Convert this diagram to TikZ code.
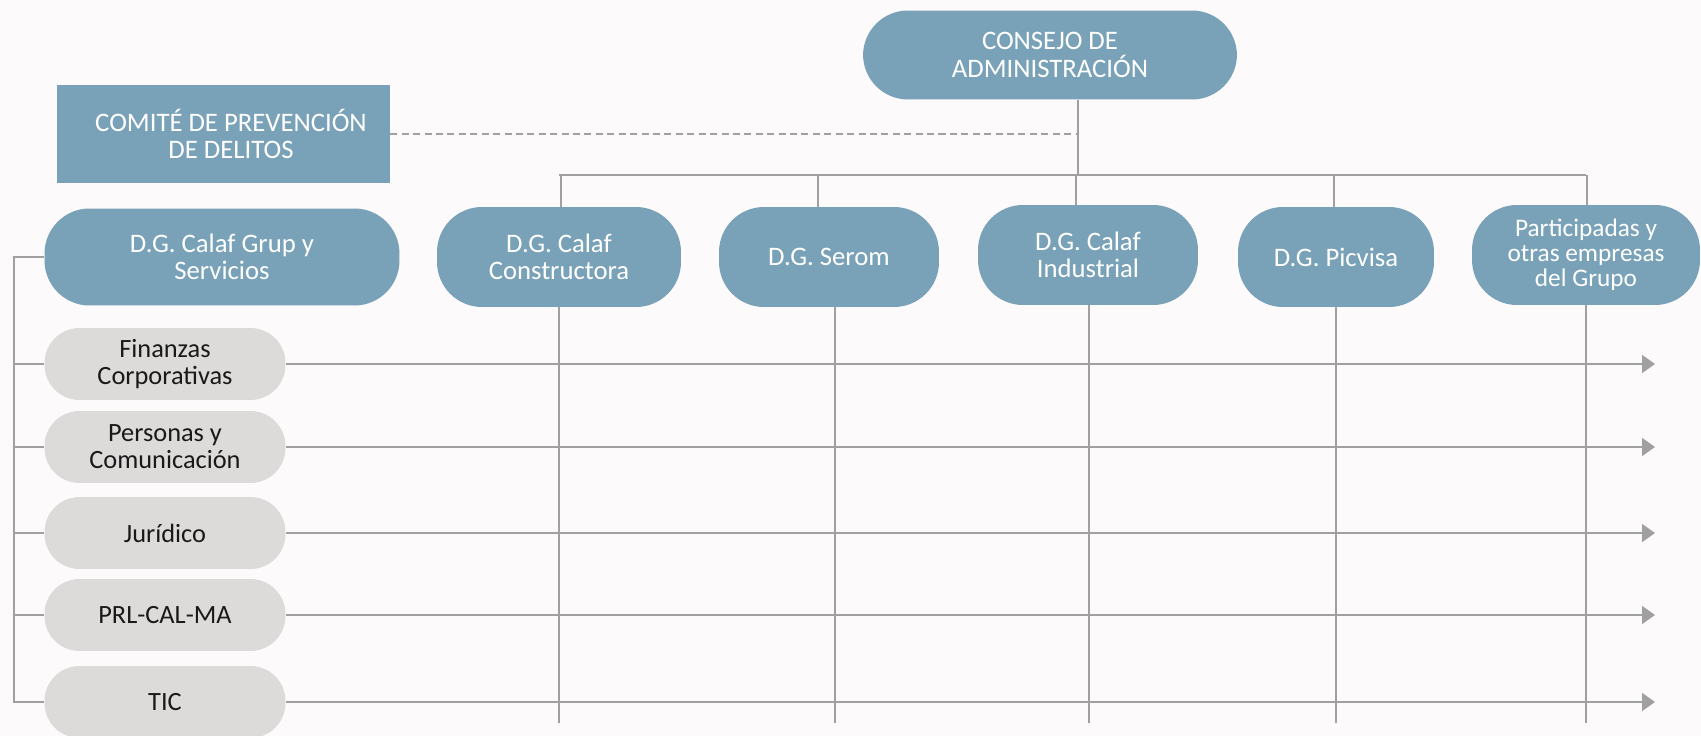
\documentclass[tikz,border=0pt]{standalone}
\usepackage{xcolor}
\usepackage{fontspec}
\setmainfont{Carlito}
\usepackage{tikz}
\usetikzlibrary{arrows.meta, positioning}

\definecolor{boxblue}{RGB}{121,162,184}
\definecolor{boxgray}{RGB}{221,219,218}
\definecolor{linegray}{RGB}{160,160,160}
\definecolor{paper}{RGB}{252,250,251}

\begin{document}
\begin{tikzpicture}[x=0.02cm, y=-0.02cm,
    bluebox/.style={fill=boxblue, text=white, rounded corners=0.9cm, align=center, inner sep=0pt,
        minimum height=2cm, font=\fontsize{15.2}{15.5}\selectfont},
    graybox/.style={fill=boxgray, text=black!90, rounded corners=0.7cm, align=center, inner sep=0pt,
        minimum width=4.82cm, minimum height=1.44cm, font=\fontsize{15}{15.5}\selectfont},
    link/.style={draw=linegray, line width=1pt},
    lane/.style={link, -{Triangle[length=0.26cm, width=0.36cm]}}]
                    % Page
                    \fill[paper] (0,0) rectangle (1701,736);
                    \useasboundingbox (0,0) rectangle (1701,736);
                    % Helper coordinates
                    \coordinate (bus) at (0,175);
                    \coordinate (bottom) at (0,723);
                    \coordinate (rail) at (14,0);
                    \coordinate (stem) at (1078,0);
                    \coordinate (endx) at (1655,0);
                    % Top
                    \node[bluebox, minimum width=7.48cm, minimum height=1.78cm] (consejo) at (1050,55) {CONSEJO DE\\ADMINISTRACIÓN};
                    \node[bluebox, sharp corners, minimum width=6.66cm, minimum height=1.96cm] (comite) at (223.5,134) {\hspace*{0.3cm}COMITÉ DE PREVENCIÓN\\\hspace*{0.3cm}DE DELITOS};
                    % Directions
                    \node[bluebox, minimum width=7.1cm, minimum height=1.94cm] (grup) at (222,257) {D.G. Calaf Grup y\\Servicios};
                    \node[bluebox, minimum width=4.88cm] (constructora) at (559,257) {D.G. Calaf\\Constructora};
                    \node[bluebox, minimum width=4.4cm] (serom) at (829,257) {D.G. Serom};
                    \node[bluebox, minimum width=4.4cm] (industrial) at (1088,255) {D.G. Calaf\\Industrial};
                    \node[bluebox, minimum width=3.92cm] (picvisa) at (1336,257) {D.G. Picvisa};
                    \node[bluebox, minimum width=4.56cm, font=\fontsize{14.4}{14.2}\selectfont] (participadas) at (1586,255) {Participadas y\\otras empresas\\del Grupo};
                    % Corporate areas
                    \node[graybox] (fin) at (165,364) {Finanzas\\Corporativas};
                    \node[graybox] (pers) at (165,447) {Personas y\\Comunicación};
                    \node[graybox] (jur) at (165,533) {Jurídico};
                    \node[graybox] (prl) at (165,615) {PRL-CAL-MA};
                    \node[graybox] (tic) at (165,702) {TIC};
                    % Tree
                    \draw[link] (stem |- consejo.south) -- (stem |- bus);
                    \draw[link] (constructora.north |- bus) -- (participadas.north |- bus);
                    \foreach \d/\o in {constructora/2, serom/-11, industrial/-12, picvisa/-2, participadas/1} {
                        \draw[link] ([xshift=\o*0.02cm]\d.north |- bus) -- ([xshift=\o*0.02cm]\d.north);
                    }
                    \foreach \d/\o in {constructora/0, serom/6, industrial/1, picvisa/0, participadas/0} {
                        \draw[link] ([xshift=\o*0.02cm]\d.south) -- ([xshift=\o*0.02cm]\d.south |- bottom);
                    }
                    \draw[link, dash pattern=on 4pt off 2.5pt] (comite.east) -- (comite.east -| stem);
                    % Left rail
                    \draw[link] (grup.west) -- (grup.west -| rail) -- (tic.west -| rail) -- (tic.west);
                    \foreach \a in {fin, pers, jur, prl} {
                        \draw[link] (\a.west -| rail) -- (\a.west);
                    }
                    % Lanes
                    \foreach \a in {fin, pers, jur, prl, tic} {
                        \draw[lane] (\a.east) -- (\a.east -| endx);
                    }
\end{tikzpicture}
\end{document}
